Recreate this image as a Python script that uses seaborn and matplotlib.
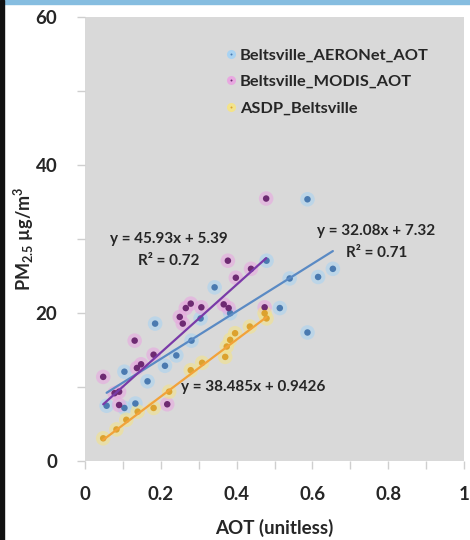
import matplotlib.pyplot as plt
import seaborn as sns
import pandas as pd
import numpy as np
from matplotlib.lines import Line2D
from matplotlib.patches import Rectangle
from matplotlib.ticker import FuncFormatter

# Values
series_names = ["Beltsville_AERONet_AOT", "Beltsville_MODIS_AOT", "ASDP_Beltsville"]

aeronet_aot = [0.587, 0.479, 0.540, 0.615, 0.654, 0.587, 0.514, 0.342, 0.383, 0.305,
               0.281, 0.185, 0.241, 0.211, 0.165, 0.104, 0.057, 0.104, 0.133]
aeronet_pm = [35.3, 27.0, 24.6, 24.8, 25.9, 17.3, 20.6, 23.4, 19.9, 19.2,
              16.2, 18.5, 14.2, 12.8, 10.7, 12.0, 7.4, 7.1, 7.7]

modis_aot = [0.478, 0.377, 0.438, 0.398, 0.279, 0.266, 0.307, 0.366, 0.379, 0.474,
             0.250, 0.258, 0.131, 0.181, 0.148, 0.137, 0.048, 0.078, 0.090, 0.090, 0.217]
modis_pm = [35.4, 27.0, 25.9, 24.7, 21.2, 20.6, 20.7, 21.1, 20.6, 20.7,
            19.4, 18.5, 16.2, 14.3, 13.0, 12.5, 11.3, 9.1, 9.3, 7.5, 7.6]

asdp_aot = [0.048, 0.083, 0.109, 0.139, 0.181, 0.222, 0.279, 0.309, 0.370, 0.374,
            0.383, 0.396, 0.435, 0.474, 0.479]
asdp_pm = [3.0, 4.2, 5.5, 6.6, 7.1, 9.3, 12.2, 13.2, 14.0, 15.4,
           16.3, 17.2, 18.1, 19.9, 19.2]

# trendline coefficients as printed on the chart
fit_slopes = [32.08, 45.93, 38.485]
fit_intercepts = [7.32, 5.39, 0.9426]

core_colors = ["#4a7ab0", "#6e2a72", "#dca22e"]
halo_colors = ["#a9d3f2", "#e8a8e0", "#f3e38a"]
line_colors = ["#5a8ac4", "#7a3aa8", "#f2a23a"]

df = pd.concat([
    pd.DataFrame({"AOT": aeronet_aot, "PM": aeronet_pm, "Series": series_names[0]}),
    pd.DataFrame({"AOT": modis_aot, "PM": modis_pm, "Series": series_names[1]}),
    pd.DataFrame({"AOT": asdp_aot, "PM": asdp_pm, "Series": series_names[2]}),
], ignore_index=True)

sns.set_theme(style="white")
plt.rcParams["font.family"] = ["Lato", "DejaVu Sans"]
plt.rcParams["font.weight"] = "bold"
plt.rcParams["mathtext.default"] = "regular"

fig = plt.figure(figsize=(4.7, 5.4), dpi=100)
ax = fig.add_axes([85 / 470, 79.5 / 540, 379 / 470, 444 / 540])
ax.set_facecolor("#d9d9d9")

# glow under each marker, then the marker itself
sns.scatterplot(data=df, x="AOT", y="PM", hue="Series", hue_order=series_names,
                palette=dict(zip(series_names, halo_colors)), s=110, alpha=0.6,
                linewidth=0, legend=False, ax=ax, zorder=2)
sns.scatterplot(data=df, x="AOT", y="PM", hue="Series", hue_order=series_names,
                palette=dict(zip(series_names, core_colors)), s=22,
                linewidth=0, legend=False, ax=ax, zorder=3)

# linear trendlines over each series' range
for name, m, b, c in zip(series_names, fit_slopes, fit_intercepts, line_colors):
    sub = df[df["Series"] == name]
    xs = np.array([sub["AOT"].min(), sub["AOT"].max()])
    ax.plot(xs, m * xs + b, color=c, lw=1.6, zorder=4)

ax.text(0.22, 29.9, "y = 45.93x + 5.39", ha="center", va="center", fontsize=11, fontweight="bold")
ax.text(0.22, 27.0, "R² = 0.72", ha="center", va="center", fontsize=11, fontweight="bold")
ax.text(0.767, 31.0, "y = 32.08x + 7.32", ha="center", va="center", fontsize=11, fontweight="bold")
ax.text(0.77, 28.0, "R² = 0.71", ha="center", va="center", fontsize=11, fontweight="bold")
ax.text(0.444, 9.9, "y = 38.485x + 0.9426", ha="center", va="center", fontsize=11,
        fontweight="bold", zorder=5)

handles = [Line2D([], [], ls="", marker="o", markersize=4, markerfacecolor=c,
                  markeredgecolor=h, markeredgewidth=2.5)
           for c, h in zip(core_colors, halo_colors)]
ax.legend(handles, series_names, loc="upper left", bbox_to_anchor=(0.355, 0.943),
          frameon=False, prop={"size": 11.8, "weight": "bold"}, handlelength=0.6,
          handletextpad=0.25, labelspacing=0.72, borderaxespad=0)

ax.set_xlim(0, 1)
ax.set_ylim(0, 60)
ax.set_xticks([0, 0.2, 0.4, 0.6, 0.8, 1.0])
ax.set_xticks([0.1, 0.3, 0.5, 0.7, 0.9], minor=True)
ax.set_yticks([0, 20, 40, 60])
ax.set_yticks([10, 30, 50], minor=True)
ax.xaxis.set_major_formatter(FuncFormatter(lambda v, p: f"{v:g}"))
ax.tick_params(which="both", direction="out", length=6, width=1, color="#cfcfcf",
               labelsize=13.5, bottom=True, left=True)
ax.tick_params(axis="x", pad=12)
ax.tick_params(axis="y", pad=14)
for lab in ax.get_xticklabels() + ax.get_yticklabels():
    lab.set_fontweight("bold")
for s in ax.spines.values():
    s.set_visible(False)

ax.set_xlabel("AOT (unitless)", fontsize=13.5, fontweight="bold")
ax.set_ylabel("PM$_{2.5}$ µg/m$^3$", fontsize=13, fontweight="bold")
ax.xaxis.set_label_coords(0.5, -0.132)
ax.yaxis.set_label_coords(-0.128, 0.5)

# frame of the screenshot: blue strip on top, black edge on the left
fig.patches.append(Rectangle((0, 1 - 4 / 540), 1, 4 / 540, transform=fig.transFigure,
                             color="#86bde0", zorder=10))
fig.patches.append(Rectangle((0, 0), 4 / 470, 1, transform=fig.transFigure,
                             color="#111111", zorder=10))

fig.savefig("out.png", dpi=100)
